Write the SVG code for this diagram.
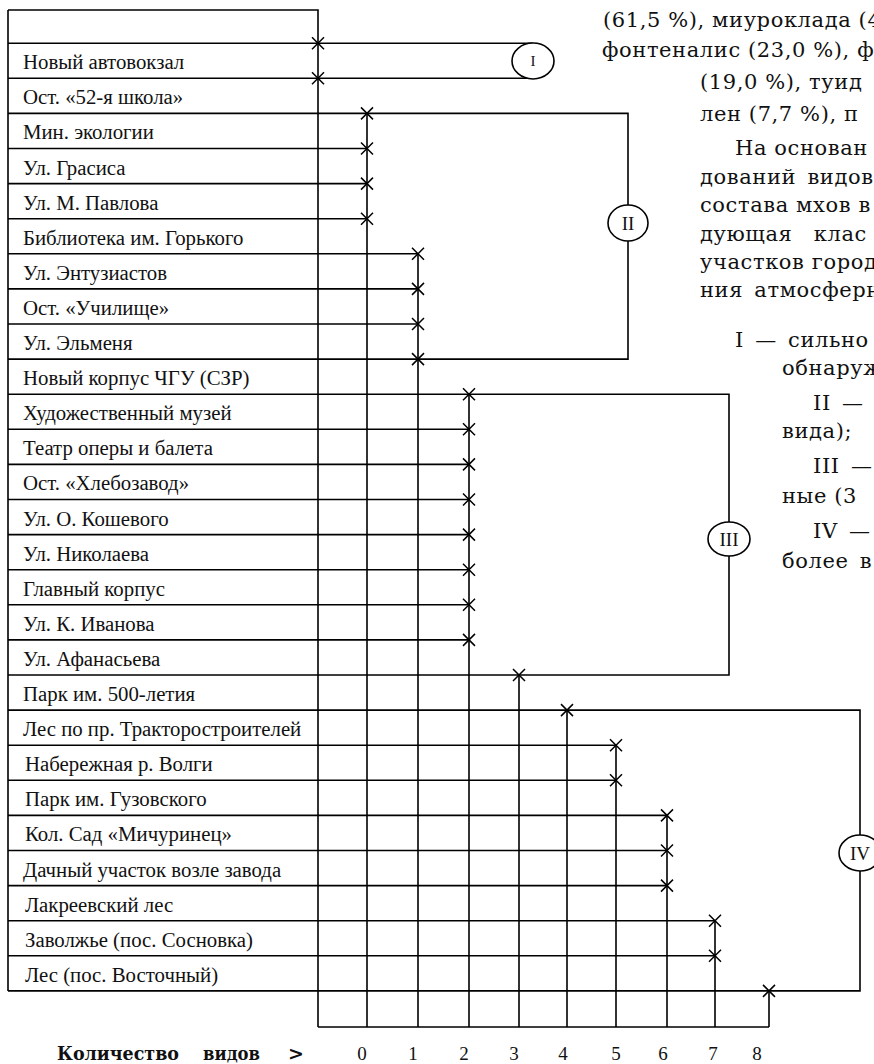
<svg xmlns="http://www.w3.org/2000/svg" width="874" height="1064" viewBox="0 0 874 1064">
<style>
.ln{stroke:#000;stroke-width:1.6;fill:none}
.xm{stroke:#000;stroke-width:1.5;fill:none}
.lb{font-family:"Liberation Serif","Times New Roman",serif;font-size:20.8px;fill:#111}
.cl{fill:#fff;stroke:#000;stroke-width:1.6}
.ct{font-family:"Liberation Serif","Times New Roman",serif;font-size:19px;fill:#111;text-anchor:middle}
.pt{font-family:"DejaVu Serif","Liberation Serif",serif;font-size:21px;letter-spacing:0.6px;fill:#111}
.ax{font-family:"Liberation Serif","Times New Roman",serif;font-size:19px;fill:#111;text-anchor:middle}
.bt{font-family:"DejaVu Serif","Liberation Serif",serif;font-size:19px;font-weight:bold;fill:#111}
</style>
<defs>
<path id="x" class="xm" d="M-6,-6L6,6M-6,6L6,-6"/>
</defs>
<rect width="874" height="1064" fill="#fff"/>

<g id="table" class="ln">
<path d="M8,10H318V1027M8,10V990.9"/>
</g>

<g id="connectors" class="ln">
<path d="M8,43.2H533M8,78.3H533"/>
<path d="M8,113.4H628V359.1H8"/>
<path d="M8,148.5H367M8,183.6H367M8,218.7H367"/>
<path d="M8,253.8H418M8,288.9H418M8,324H418"/>
<path d="M8,394.2H729V675H8"/>
<path d="M8,429.3H469M8,464.4H469M8,499.5H469M8,534.6H469M8,569.7H469M8,604.8H469M8,639.9H469"/>
<path d="M8,710.1H860V990.9H8"/>
<path d="M8,745.2H616M8,780.3H616"/>
<path d="M8,815.4H667M8,850.5H667M8,885.6H667"/>
<path d="M8,920.7H715M8,955.8H715"/>
<path d="M367,113.4V1027M418,253.8V1027M469,394.2V1027M519,675V1027M567,710.1V1027M616,745.2V1027M667,815.4V1027M715,920.7V1027M769,990.9V1027M318,1027H769"/>
<g id="crosses">
<use href="#x" x="318" y="43.2"/><use href="#x" x="318" y="78.3"/>
<use href="#x" x="367" y="113.4"/><use href="#x" x="367" y="148.5"/><use href="#x" x="367" y="183.6"/><use href="#x" x="367" y="218.7"/>
<use href="#x" x="418" y="253.8"/><use href="#x" x="418" y="288.9"/><use href="#x" x="418" y="324"/><use href="#x" x="418" y="359.1"/>
<use href="#x" x="469" y="394.2"/><use href="#x" x="469" y="429.3"/><use href="#x" x="469" y="464.4"/><use href="#x" x="469" y="499.5"/><use href="#x" x="469" y="534.6"/><use href="#x" x="469" y="569.7"/><use href="#x" x="469" y="604.8"/><use href="#x" x="469" y="639.9"/>
<use href="#x" x="519" y="675"/>
<use href="#x" x="567" y="710.1"/>
<use href="#x" x="616" y="745.2"/><use href="#x" x="616" y="780.3"/>
<use href="#x" x="667" y="815.4"/><use href="#x" x="667" y="850.5"/><use href="#x" x="667" y="885.6"/>
<use href="#x" x="715" y="920.7"/><use href="#x" x="715" y="955.8"/>
<use href="#x" x="769" y="990.9"/>
</g>
</g>

<g id="group-I"><ellipse class="cl" cx="533" cy="61" rx="21" ry="18"/><text class="ct" x="533" y="66" style="font-size:15px">I</text></g>
<g id="group-II"><ellipse class="cl" cx="628" cy="223" rx="20" ry="18"/><text class="ct" x="628" y="229.5">II</text></g>
<g id="group-III"><ellipse class="cl" cx="729" cy="539" rx="21" ry="17"/><text class="ct" x="729" y="545.5">III</text></g>
<g id="group-IV"><ellipse class="cl" cx="860" cy="853" rx="21" ry="18"/><text class="ct" x="860" y="859.5">IV</text></g>

<g id="rows" class="lb">
<g id="row-1"><text x="23" y="69.2">Новый автовокзал</text></g>
<g id="row-2"><text x="23" y="104.3">Ост. «52-я школа»</text></g>
<g id="row-3"><text x="23" y="139.4">Мин. экологии</text></g>
<g id="row-4"><text x="23" y="174.5">Ул. Грасиса</text></g>
<g id="row-5"><text x="23" y="209.6">Ул. М. Павлова</text></g>
<g id="row-6"><text x="23" y="244.7">Библиотека им. Горького</text></g>
<g id="row-7"><text x="23" y="279.8">Ул. Энтузиастов</text></g>
<g id="row-8"><text x="23" y="314.9">Ост. «Училище»</text></g>
<g id="row-9"><text x="23" y="350">Ул. Эльменя</text></g>
<g id="row-10"><text x="23" y="385.1">Новый корпус ЧГУ (СЗР)</text></g>
<g id="row-11"><text x="23" y="420.2">Художественный музей</text></g>
<g id="row-12"><text x="23" y="455.3">Театр оперы и балета</text></g>
<g id="row-13"><text x="23" y="490.4">Ост. «Хлебозавод»</text></g>
<g id="row-14"><text x="23" y="525.5">Ул. О. Кошевого</text></g>
<g id="row-15"><text x="23" y="560.6">Ул. Николаева</text></g>
<g id="row-16"><text x="23" y="595.7">Главный корпус</text></g>
<g id="row-17"><text x="23" y="630.8">Ул. К. Иванова</text></g>
<g id="row-18"><text x="23" y="665.9">Ул. Афанасьева</text></g>
<g id="row-19"><text x="23" y="701">Парк им. 500-летия</text></g>
<g id="row-20"><text x="23" y="736.1">Лес по пр. Тракторостроителей</text></g>
<g id="row-21"><text x="25" y="771.2">Набережная р. Волги</text></g>
<g id="row-22"><text x="25" y="806.3">Парк им. Гузовского</text></g>
<g id="row-23"><text x="25" y="841.4">Кол. Сад «Мичуринец»</text></g>
<g id="row-24"><text x="23" y="876.5">Дачный участок возле завода</text></g>
<g id="row-25"><text x="25" y="911.6">Лакреевский лес</text></g>
<g id="row-26"><text x="25" y="946.7">Заволжье (пос. Сосновка)</text></g>
<g id="row-27"><text x="25" y="981.8">Лес (пос. Восточный)</text></g>
</g>

<g id="axis">
<text class="bt" x="57" y="1060" textLength="122" lengthAdjust="spacingAndGlyphs">Количество</text>
<text class="bt" x="203" y="1060" textLength="57" lengthAdjust="spacingAndGlyphs">видов</text>
<text class="bt" x="288" y="1060">&gt;</text>
<g class="ax">
<text x="362" y="1060">0</text><text x="413" y="1060">1</text><text x="464" y="1060">2</text><text x="514" y="1060">3</text><text x="563" y="1060">4</text><text x="616" y="1060">5</text><text x="663" y="1060">6</text><text x="713" y="1060">7</text><text x="757" y="1060">8</text>
</g>
</g>

<g id="paragraph" class="pt">
<text x="603" y="27">(61,5 %), миуроклада (4</text>
<text x="602" y="57">фонтеналис (23,0 %), ф</text>
<text x="700" y="89">(19,0 %), туид</text>
<text x="700" y="121">лен (7,7 %), п</text>
<text x="735" y="155">На основан</text>
<text x="700" y="184" word-spacing="4">дований видов</text>
<text x="700" y="212">состава мхов в</text>
<text x="700" y="241" word-spacing="14">дующая клас</text>
<text x="700" y="269">участков город</text>
<text x="700" y="297" word-spacing="4">ния атмосферн</text>
<text x="735" y="347" word-spacing="4">I — сильно</text>
<text x="782" y="375">обнаруж</text>
<text x="813" y="410" word-spacing="4">II —</text>
<text x="782" y="438">вида);</text>
<text x="813" y="473" word-spacing="4">III —</text>
<text x="782" y="503">ные (3</text>
<text x="813" y="538" word-spacing="4">IV —</text>
<text x="782" y="568" word-spacing="4">более в</text>
</g>
</svg>
